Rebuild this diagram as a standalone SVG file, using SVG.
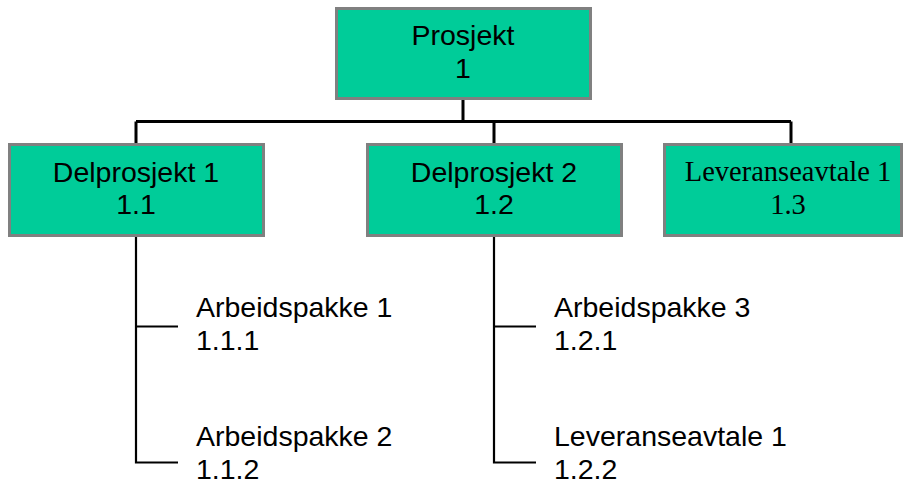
<svg xmlns="http://www.w3.org/2000/svg" width="905" height="488" viewBox="0 0 905 488">
  <style>
    .box { fill: #00cc99; stroke: #808080; stroke-width: 3; }
    .lbl { font-family: "Liberation Sans", Arial, sans-serif; font-size: 28.5px; fill: #000; }
    .serif { font-family: "Liberation Serif", "Times New Roman", serif; font-size: 28.5px; fill: #000; }
    .mid { text-anchor: middle; }
    .wire { stroke: #000; fill: none; }
  </style>
  <rect width="905" height="488" fill="#fff"/>

  <g id="connectors">
    <path class="wire" stroke-width="3" d="M463 100 V121.5 M136 121.5 H791 M136 121.5 V143 M494 121.5 V143 M791 121.5 V143"/>
    <path class="wire" stroke-width="2.2" d="M136 236 V462.5 H178 M136 326.5 H178"/>
    <path class="wire" stroke-width="2.2" d="M494 237 V462.5 H536 M494 326.5 H536"/>
  </g>

  <g id="prosjekt">
    <rect class="box" x="336.5" y="8.5" width="254" height="90"/>
    <text class="lbl mid" x="463" y="45">Prosjekt</text>
    <text class="lbl mid" x="463" y="78">1</text>
  </g>

  <g id="delprosjekt1">
    <rect class="box" x="9.5" y="144.5" width="254" height="91"/>
    <text class="lbl mid" x="136" y="182">Delprosjekt 1</text>
    <text class="lbl mid" x="136" y="214">1.1</text>
  </g>

  <g id="delprosjekt2">
    <rect class="box" x="367.5" y="144.5" width="254" height="91"/>
    <text class="lbl mid" x="494" y="182">Delprosjekt 2</text>
    <text class="lbl mid" x="494" y="214">1.2</text>
  </g>

  <g id="leveranseavtale13">
    <rect class="box" x="664.5" y="144.5" width="237" height="91"/>
    <text class="serif mid" x="788" y="181">Leveranseavtale 1</text>
    <text class="serif mid" x="788" y="214">1.3</text>
  </g>

  <g id="arbeidspakke1">
    <text class="lbl" x="196" y="317">Arbeidspakke 1</text>
    <text class="lbl" x="196" y="350">1.1.1</text>
  </g>

  <g id="arbeidspakke2">
    <text class="lbl" x="196" y="446">Arbeidspakke 2</text>
    <text class="lbl" x="196" y="479">1.1.2</text>
  </g>

  <g id="arbeidspakke3">
    <text class="lbl" x="554" y="317">Arbeidspakke 3</text>
    <text class="lbl" x="554" y="350">1.2.1</text>
  </g>

  <g id="leveranseavtale122">
    <text class="lbl" x="554" y="446">Leveranseavtale 1</text>
    <text class="lbl" x="554" y="479">1.2.2</text>
  </g>
</svg>
